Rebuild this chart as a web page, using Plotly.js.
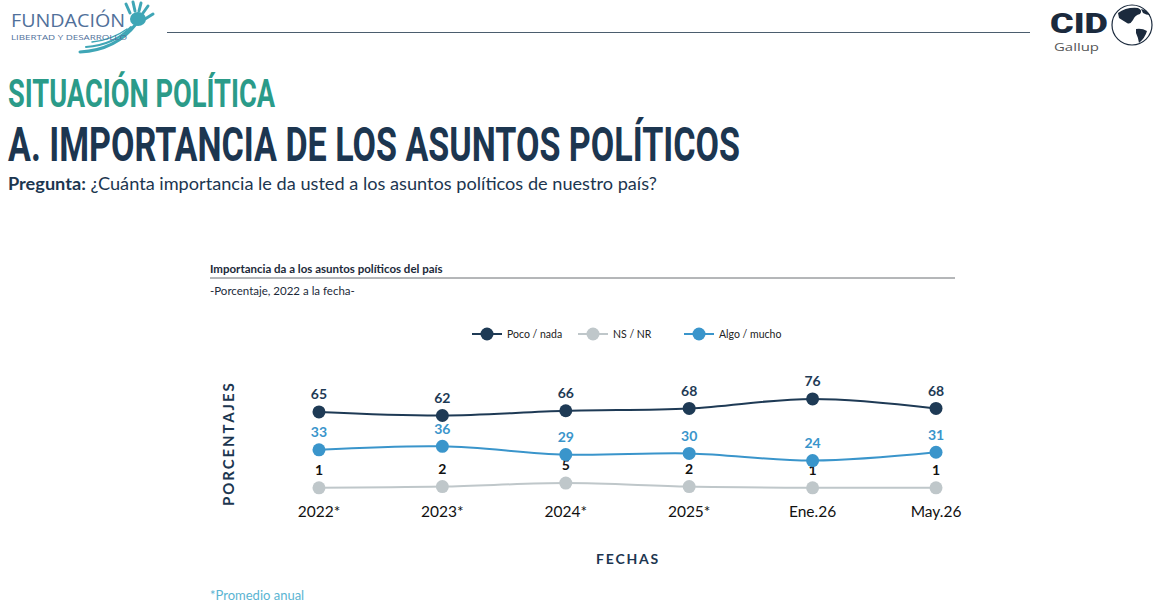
<!DOCTYPE html>
<html>
<head>
<meta charset="utf-8">
<script src="https://cdn.plot.ly/plotly-3.0.1.min.js"></script>
<style>
  body { margin: 0; background: #fff; }
  #wrap { position: relative; width: 1170px; height: 616px; overflow: hidden; }
  #myDiv { position: absolute; left: 0; top: 0; width: 1170px; height: 616px; }
  #header { position: absolute; left: 0; top: 0; pointer-events: none; }
</style>
</head>
<body>
<div id="wrap">
  <div id="myDiv"></div>
  <svg id="header" width="1170" height="616" xmlns="http://www.w3.org/2000/svg">
    <!-- Fundacion logo -->
    <g fill="none" stroke="#3fa6b6" stroke-linecap="round">
      <path d="M80,52 Q116,50 136,24" stroke-width="3"/>
      <path d="M86,47 Q114,45 131,27" stroke-width="2"/>
      <path d="M92,42 Q112,40 127,29" stroke-width="1.5"/>
      <path d="M130,13 L126,4" stroke-width="3"/>
      <path d="M135,11 L133,2" stroke-width="3"/>
      <path d="M139,11 L141,3" stroke-width="3"/>
      <path d="M143,13 L148,6" stroke-width="3"/>
      <path d="M145,19 L153,14" stroke-width="3"/>
    </g>
    <ellipse cx="138" cy="19" rx="8" ry="7" fill="#3fa6b6"/>
    <text x="11" y="27" font-family="Open Sans" font-size="18.5" fill="#50709a" textLength="114" lengthAdjust="spacingAndGlyphs">FUNDACIÓN</text>
    <text x="11" y="39.5" font-family="Open Sans" font-size="7" fill="#50709a" textLength="116" lengthAdjust="spacingAndGlyphs">LIBERTAD Y DESARROLLO</text>
    <line x1="167" y1="32.5" x2="1030" y2="32.5" stroke="#4b5d6e" stroke-width="1.2"/>
    <!-- CID Gallup logo -->
    <text x="1050" y="33" font-family="Roboto" font-weight="900" font-size="27" fill="#1b2a3d" textLength="58" lengthAdjust="spacingAndGlyphs">CID</text>
    <circle cx="1132" cy="25" r="20" fill="#fff" stroke="#1b2a3d" stroke-width="1.2"/>
    <path d="M1118,13 Q1126,7 1138,8 Q1143,10 1140,14 Q1135,15 1133,20 Q1130,25 1127,23 Q1122,20 1119,18 Z" fill="#1b2a3d"/>
    <path d="M1136,29 Q1142,28 1147,31 Q1145,38 1139,43 Q1138,37 1136,33 Z" fill="#1b2a3d"/>
    <path d="M1141,9 Q1147,10 1150,15 Q1146,15 1143,13 Z" fill="#1b2a3d"/>
    <text x="1054" y="51" font-family="Open Sans" font-size="10" fill="#555" textLength="45" lengthAdjust="spacingAndGlyphs">Gallup</text>
    <!-- Titles -->
    <text x="8" y="107" font-family="Roboto" font-weight="700" font-size="38" fill="#2b9b89" textLength="267" lengthAdjust="spacingAndGlyphs">SITUACIÓN POLÍTICA</text>
    <text x="8" y="161" font-family="Roboto" font-weight="700" font-size="49" fill="#1c3650" textLength="732" lengthAdjust="spacingAndGlyphs">A. IMPORTANCIA DE LOS ASUNTOS POLÍTICOS</text>
    <text x="8" y="190" font-family="Lato" font-size="16.5" fill="#1c3650" textLength="649" lengthAdjust="spacingAndGlyphs"><tspan font-weight="700">Pregunta:</tspan> ¿Cuánta importancia le da usted a los asuntos políticos de nuestro país?</text>
  </svg>
</div>
<script>
var fechas = ['2022*', '2023*', '2024*', '2025*', 'Ene.26', 'May.26'];
var pocoNada = [65, 62, 66, 68, 76, 68];
var nsNr = [1, 2, 5, 2, 1, 1];
var algoMucho = [33, 36, 29, 30, 24, 31];

// plot area in pixels: x 210..955, y 370..500
var L = 210, R = 955, T = 370, B = 500;
function px(x) { return (x - L) / (R - L); }
function py(y) { return (B - y) / (B - T); }

function serie(nombre, valores, color, colorTexto) {
  return {
    x: fechas,
    y: valores,
    name: nombre,
    type: 'scatter',
    mode: 'lines+markers+text',
    text: valores.map(String),
    textposition: 'top center',
    textfont: { family: 'Lato', size: 14, color: colorTexto, weight: 700 },
    line: { color: color, width: 2, shape: 'spline', smoothing: 1 },
    marker: { color: color, size: 13 },
    cliponaxis: false,
    hoverinfo: 'x+y'
  };
}

var data = [
  serie('Poco / nada', pocoNada, '#1e3a55', '#1e3a55'),
  serie('NS / NR', nsNr, '#bfc7ca', '#111111'),
  serie('Algo / mucho', algoMucho, '#3a95cb', '#3a95cb')
];

var layout = {
  width: 1170,
  height: 616,
  margin: { l: L, r: 1170 - R, t: T, b: 616 - B },
  paper_bgcolor: '#ffffff',
  plot_bgcolor: '#ffffff',
  font: { family: 'Lato', color: '#1c3650' },
  showlegend: true,
  legend: {
    orientation: 'h',
    x: px(467), y: py(334),
    xanchor: 'left', yanchor: 'middle',
    entrywidth: 61,
    entrywidthmode: 'pixels',
    font: { family: 'Lato', size: 10.5, color: '#222' },
    itemclick: false
  },
  xaxis: {
    type: 'category',
    range: [-0.883, 5.154],
    showgrid: false, zeroline: false, showline: false,
    ticks: '',
    tickfont: { family: 'Lato', size: 15.5, color: '#111' }
  },
  yaxis: {
    range: [-9.3, 100.4],
    showgrid: false, zeroline: false, showline: false,
    showticklabels: false, ticks: ''
  },
  shapes: [
    { type: 'line', xref: 'paper', yref: 'paper', x0: 0, x1: 1, y0: py(278), y1: py(278),
      line: { color: '#6b6f73', width: 1 } }
  ],
  annotations: [
    { text: '<b>Importancia da a los asuntos políticos del país</b>', xref: 'paper', yref: 'paper',
      x: px(208), y: py(268), xanchor: 'left', yanchor: 'middle', showarrow: false,
      font: { family: 'Lato', size: 11.5, color: '#1c2a3a' } },
    { text: '-Porcentaje, 2022 a la fecha-', xref: 'paper', yref: 'paper',
      x: px(208), y: py(290), xanchor: 'left', yanchor: 'middle', showarrow: false,
      font: { family: 'Lato', size: 11.5, color: '#1c2a3a' } },
    { text: '<b>P\u2009O\u2009R\u2009C\u2009E\u2009N\u2009T\u2009A\u2009J\u2009E\u2009S</b>', xref: 'paper', yref: 'paper',
      x: px(228), y: py(445), xanchor: 'center', yanchor: 'middle', textangle: -90, showarrow: false,
      font: { family: 'Lato', size: 15, color: '#1c3650' } },
    { text: '<b>F\u2009E\u2009C\u2009H\u2009A\u2009S</b>', xref: 'paper', yref: 'paper',
      x: px(627), y: py(558), xanchor: 'center', yanchor: 'middle', showarrow: false,
      font: { family: 'Lato', size: 14, color: '#1c3650' } },
    { text: '*Promedio anual', xref: 'paper', yref: 'paper',
      x: px(208), y: py(595), xanchor: 'left', yanchor: 'middle', showarrow: false,
      font: { family: 'Lato', size: 13, color: '#5ab4d2' } }
  ]
};

Plotly.newPlot('myDiv', data, layout, { displayModeBar: false, responsive: false });
</script>
</body>
</html>
